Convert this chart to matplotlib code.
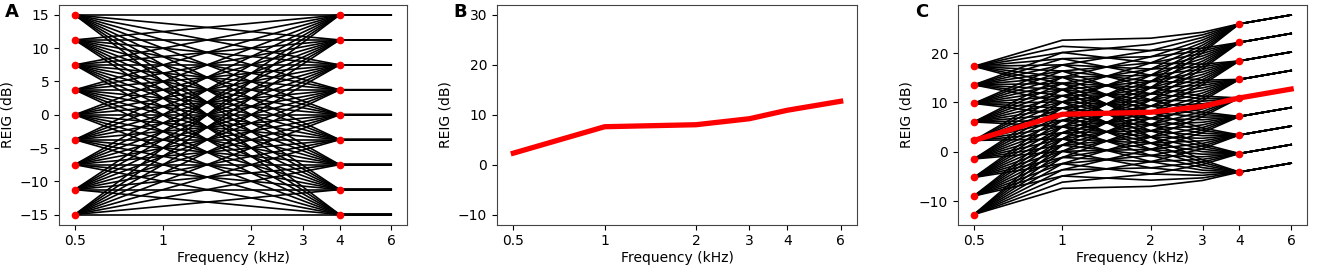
import numpy as np
import matplotlib
matplotlib.use("Agg")
import matplotlib.pyplot as plt
from matplotlib.ticker import FixedLocator, FixedFormatter, NullLocator

# audiometric frequencies (kHz) and the mean REIG curve (dB)
freqs = [0.5, 1, 2, 3, 4, 6]
reig = [2.3, 7.6, 8.0, 9.2, 10.9, 12.7]
# gain offsets applied at the 0.5 kHz and 4 kHz anchors
levels = [-15, -11.25, -7.5, -3.75, 0, 3.75, 7.5, 11.25, 15]
anchor_lo, anchor_hi = 0.5, 4
xticks = [0.5, 1, 2, 3, 4, 6]
xticklabels = ["0.5", "1", "2", "3", "4", "6"]

plt.rcParams["font.size"] = 10
plt.rcParams["axes.edgecolor"] = "#444444"

f = np.array(freqs)
# position of each frequency between the two anchors (log scale)
w = np.clip(np.log(f / anchor_lo) / np.log(anchor_hi / anchor_lo), 0, 1)

fig = plt.figure(figsize=(13.25, 2.71), dpi=100)
W, H = 1325, 271
boxes = [(59, 407), (497, 857), (958, 1307)]
top, bottom = 5, 224.5
axes = [fig.add_axes([l / W, 1 - bottom / H, (r - l) / W, (bottom - top) / H]) for l, r in boxes]


def fmt(ax, letter, x_letter):
    ax.set_xscale("log")
    ax.xaxis.set_major_locator(FixedLocator(xticks))
    ax.xaxis.set_major_formatter(FixedFormatter(xticklabels))
    ax.xaxis.set_minor_locator(NullLocator())
    ax.set_xlabel("Frequency (kHz)", labelpad=2)
    ax.set_ylabel("REIG (dB)")
    fig.text(x_letter / W, 1 - 3 / H, letter, fontsize=13, fontweight="bold", va="top", ha="left")


# A: all offset combinations
ax = axes[0]
for a in levels:
    for b in levels:
        ax.plot(f, a + (b - a) * w, color="black", lw=1.2)
ax.plot([anchor_lo] * len(levels), levels, "o", color="red", ms=4.5, zorder=5)
ax.plot([anchor_hi] * len(levels), levels, "o", color="red", ms=4.5, zorder=5)
ax.set_yticks([-15, -10, -5, 0, 5, 10, 15])
fmt(ax, "A", 5)

# B: mean REIG
ax = axes[1]
ax.plot(freqs, reig, color="red", lw=3.8)
ax.set_ylim(-12, 32)
ax.set_yticks([-10, 0, 10, 20, 30])
fmt(ax, "B", 453)

# C: offsets added to the mean REIG
ax = axes[2]
r = np.array(reig)
for a in levels:
    for b in levels:
        ax.plot(f, r + a + (b - a) * w, color="black", lw=1.2)
ax.plot([anchor_lo] * len(levels), np.array(levels) + reig[0], "o", color="red", ms=4.5, zorder=5)
ax.plot([anchor_hi] * len(levels), np.array(levels) + reig[4], "o", color="red", ms=4.5, zorder=5)
ax.plot(freqs, reig, color="red", lw=3.8, zorder=6)
ax.set_yticks([-10, 0, 10, 20])
fmt(ax, "C", 915)

fig.savefig("out.png", dpi=100)
